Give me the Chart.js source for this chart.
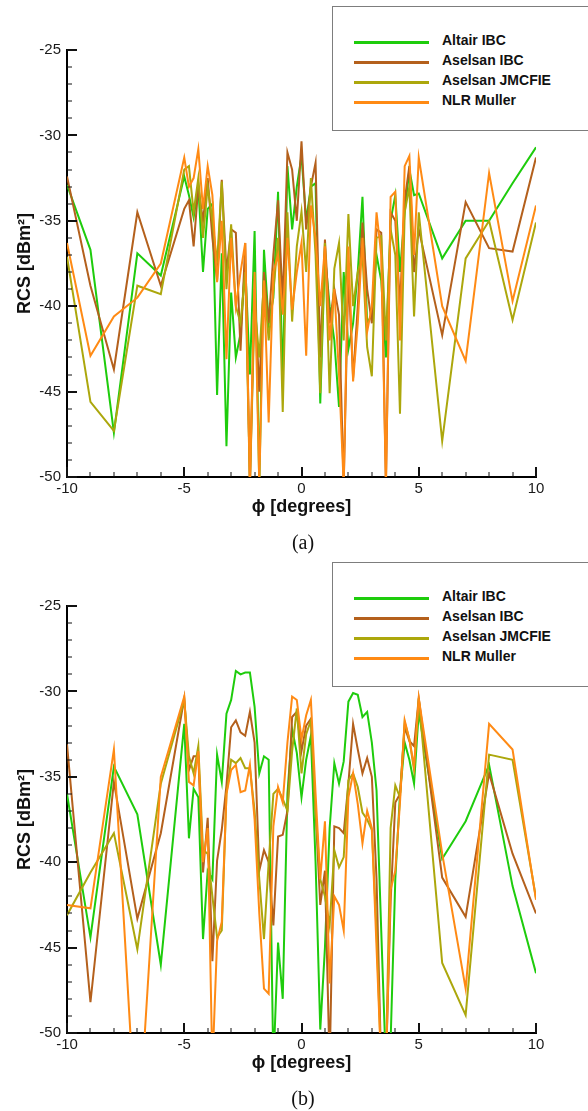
<!DOCTYPE html>
<html>
<head>
<meta charset="utf-8">
<script src="https://cdn.jsdelivr.net/npm/chart.js@4.4.1/dist/chart.umd.min.js"></script>
<style>
  html, body { margin: 0; padding: 0; background: #fff; }
  body { width: 588px; height: 1111px; position: relative; overflow: hidden; }
  .panel { position: absolute; left: 0; width: 588px; height: 555px; }
  .panel canvas { position: absolute; left: 0; top: 0; }
  .legend { position: absolute; left: 332px; top: 6px; width: 270px; height: 125px;
            border: 1.5px solid #7d7d7d; box-sizing: border-box; background: #fff; }
  .legend .swatch { position: absolute; left: 21px; width: 75px; height: 2.5px; }
  .legend .label { position: absolute; left: 109px; height: 20px; line-height: 20px;
                   font: bold 14px "Liberation Sans", Arial, sans-serif; color: #111; white-space: nowrap; }
  .caption { position: absolute; left: 273px; width: 60px; top: 531px; line-height: 24px; text-align: center;
             font: 20px "Liberation Serif", "Times New Roman", serif; color: #111; }
</style>
</head>
<body>
<div class="panel" style="top:0px">
  <canvas id="chartA" width="588" height="555"></canvas>
  <div class="legend" id="legendA"></div>
  <div class="caption">(a)</div>
</div>
<div class="panel" style="top:556px">
  <canvas id="chartB" width="588" height="555"></canvas>
  <div class="legend" id="legendB"></div>
  <div class="caption">(b)</div>
</div>
<script>
// phi angles (degrees) shared by every curve
const phi = [-10, -9, -8, -7, -6,
  -5, -4.8, -4.6, -4.4, -4.2, -4, -3.8, -3.6, -3.4, -3.2,
  -3, -2.8, -2.6, -2.4, -2.2, -2, -1.8, -1.6, -1.4, -1.2,
  -1, -0.8, -0.6, -0.4, -0.2,
  0, 0.2, 0.4, 0.6, 0.8, 1, 1.2, 1.4, 1.6, 1.8,
  2, 2.2, 2.4, 2.6, 2.8, 3, 3.2, 3.4, 3.6, 3.8,
  4, 4.2, 4.4, 4.6, 4.8, 5,
  6, 7, 8, 9, 10];

const seriesNames = ['Altair IBC', 'Aselsan IBC', 'Aselsan JMCFIE', 'NLR Muller'];
const seriesColors = ['#1ecc0c', '#b4601c', '#aca70c', '#ff8a14'];

const xTicks = [-10, -5, 0, 5, 10];
const yTicks = [-50, -45, -40, -35, -30, -25];

// panel (a)
const altairA = [-32.9, -36.7, -47.4, -36.9, -38.2,
  -32.4, -33.5, -34.8, -33.0, -38.0, -34.3, -34.0, -45.2, -36.9, -48.2,
  -39.2, -43.0, -41.6, -37.5, -44.0, -35.6, -50.5, -36.7, -41.0, -39.5,
  -33.3, -44.5, -31.8, -35.5, -33.0,
  -31.2, -35.0, -33.0, -32.8, -45.7, -37.0, -40.0, -42.0, -45.9, -38.0,
  -42.5, -41.0, -38.0, -33.6, -41.0, -40.5, -37.0, -38.5, -43.0, -35.0,
  -33.5, -38.0, -34.5, -32.0, -33.5, -33.4,
  -37.2, -35.0, -35.0, -32.8, -30.7];
const aselsanIbcA = [-32.4, -38.8, -43.7, -34.5, -38.8,
  -34.3, -33.8, -36.5, -33.0, -35.0, -32.5, -36.0, -38.5, -32.6, -38.0,
  -35.5, -35.7, -42.6, -36.3, -50.5, -39.0, -45.0, -38.0, -41.0, -37.0,
  -33.8, -39.8, -31.0, -32.0, -35.0,
  -30.35, -35.5, -33.0, -31.6, -43.0, -36.1, -41.0, -39.0, -40.5, -50.5,
  -38.0, -44.2, -40.0, -35.1, -39.0, -41.0, -35.5, -35.7, -50.5, -34.5,
  -35.0, -40.0, -33.8, -31.8, -38.0, -35.5,
  -41.7, -33.9, -36.6, -36.8, -31.3];
const aselsanJmcfieA = [-37.1, -45.6, -47.3, -38.8, -39.3,
  -32.0, -31.8, -34.5, -32.5, -36.0, -33.0, -35.0, -37.5, -32.7, -39.0,
  -35.2, -40.0, -41.0, -38.0, -50.5, -40.0, -43.0, -38.5, -42.0, -39.2,
  -36.0, -46.2, -34.5, -40.9, -36.5,
  -34.45, -38.0, -32.5, -37.0, -45.1, -36.3, -45.1, -37.8, -36.3, -42.0,
  -34.6, -40.0, -38.0, -37.0, -42.4, -44.1, -36.0, -35.9, -42.0, -35.5,
  -37.0, -46.3, -34.5, -33.0, -40.6, -34.5,
  -47.9, -37.2, -35.0, -40.8, -35.1];
const nlrMullerA = [-36.3, -42.9, -40.6, -39.5, -37.5,
  -31.3, -33.0, -32.5, -30.8, -34.3, -31.8, -33.5, -38.6, -35.0, -43.1,
  -36.0, -40.0, -38.0, -36.3, -50.5, -38.0, -50.5, -38.5, -46.8, -38.0,
  -37.0, -40.5, -36.0, -40.2, -38.0,
  -36.3, -42.9, -34.1, -36.0, -40.0, -36.5, -42.0, -39.0, -44.0, -50.5,
  -36.5, -44.4, -41.0, -36.0, -41.5, -40.0, -34.5, -37.0, -50.5, -33.6,
  -33.3, -42.0, -31.8, -31.2, -37.0, -31.3,
  -40.0, -43.2, -32.2, -39.7, -34.1];

// panel (b)
const altairB = [-36.0, -44.4, -34.4, -37.2, -46.0,
  -31.9, -38.6, -35.7, -36.2, -44.5, -40.5, -41.0, -33.7, -35.3, -31.3,
  -30.5, -28.8, -29.0, -28.9, -28.9, -30.9, -34.8, -33.8, -34.0, -52.0,
  -44.7, -48.0, -36.0, -32.2, -33.6,
  -36.2, -34.0, -32.6, -40.0, -49.8, -45.0, -38.0, -34.2, -35.4, -34.1,
  -30.6, -30.1, -30.2, -31.5, -31.2, -33.0, -35.8, -44.0, -52.0, -50.5,
  -41.0, -36.0, -33.0, -34.0, -35.4, -31.2,
  -39.8, -37.6, -34.3, -41.4, -46.5];
const aselsanIbcB = [-33.1, -48.2, -35.3, -43.3, -38.3,
  -30.4, -34.6, -33.8, -33.8, -40.6, -37.4, -45.8, -39.9, -38.1, -35.5,
  -32.1, -31.7, -32.4, -32.6, -31.2, -33.0, -40.5, -39.3, -40.0, -43.7,
  -38.5, -38.4, -37.0, -31.5, -31.2,
  -33.5, -32.0, -31.6, -37.0, -42.5, -40.5, -52.0, -37.9, -38.0, -38.3,
  -35.4, -31.9, -33.4, -34.8, -33.9, -35.0, -41.0, -52.0, -52.0, -42.3,
  -36.5, -36.0, -32.1, -32.9, -33.2, -30.4,
  -40.9, -43.2, -34.8, -39.5, -43.0];
const aselsanJmcfieB = [-43.1, -40.6, -38.3, -45.1, -35.4,
  -30.5, -33.8, -34.8, -33.2, -39.3, -39.5, -42.0, -44.4, -44.0, -36.0,
  -34.0, -34.2, -33.9, -34.5, -34.5, -37.0, -41.0, -44.5, -40.0, -36.0,
  -35.7, -36.3, -37.0, -33.5, -31.0,
  -34.8, -32.5, -31.7, -37.0, -41.0, -42.0, -43.7, -39.3, -40.3, -39.7,
  -35.2, -34.8, -35.6, -37.1, -37.5, -38.1, -44.0, -52.0, -52.0, -38.0,
  -35.5, -36.2, -31.8, -32.8, -34.6, -30.4,
  -45.9, -48.95, -33.7, -34.0, -42.1];
const nlrMullerB = [-42.5, -42.7, -33.4, -57.0, -35.0,
  -30.3, -35.3, -35.5, -33.5, -40.0, -38.0, -52.0, -44.6, -43.5, -36.0,
  -34.6, -34.3, -35.9, -35.8, -34.3, -37.5, -43.0, -47.4, -47.7, -37.9,
  -35.6, -36.5, -33.0, -30.3, -30.5,
  -32.8, -31.4, -30.5, -36.0, -41.0, -37.6, -47.1, -42.0, -42.5, -44.0,
  -36.2, -34.8, -36.6, -38.9, -37.0, -38.0, -45.0, -52.0, -52.0, -41.6,
  -40.5, -36.5, -31.7, -32.8, -34.4, -30.4,
  -39.5, -47.4, -31.9, -33.4, -42.2];

const FONT = '"Liberation Sans", Arial, sans-serif';

// inward major/minor tick marks like the original plotting package
const innerTicks = {
  id: 'innerTicks',
  afterDraw(chart) {
    const { ctx, chartArea: area, scales: { x, y } } = chart;
    ctx.save();
    ctx.strokeStyle = '#111';
    for (let v = x.min; v <= x.max; v += 1) {
      const major = xTicks.includes(v);
      const px = Math.round(x.getPixelForValue(v));
      ctx.lineWidth = major ? 2 : 1;
      ctx.beginPath();
      ctx.moveTo(px, area.bottom);
      ctx.lineTo(px, area.bottom - (major ? 10 : 5));
      ctx.stroke();
    }
    for (let v = y.min; v <= y.max; v += 1) {
      const major = yTicks.includes(v);
      const py = Math.round(y.getPixelForValue(v));
      ctx.lineWidth = major ? 2 : 1;
      ctx.beginPath();
      ctx.moveTo(area.left, py);
      ctx.lineTo(area.left + (major ? 10 : 5), py);
      ctx.stroke();
    }
    ctx.restore();
  }
};

function buildLegend(id) {
  const box = document.getElementById(id);
  seriesNames.forEach((name, i) => {
    const sw = document.createElement('div');
    sw.className = 'swatch';
    sw.style.top = (34 + i * 20) + 'px';
    sw.style.background = seriesColors[i];
    box.appendChild(sw);
    const lb = document.createElement('div');
    lb.className = 'label';
    lb.style.top = (25 + i * 20) + 'px';
    lb.textContent = name;
    box.appendChild(lb);
  });
}

function makeChart(canvasId, seriesList) {
  const ctx = document.getElementById(canvasId);
  return new Chart(ctx, {
    type: 'line',
    data: {
      datasets: seriesList.map((values, i) => ({
        label: seriesNames[i],
        data: phi.map((p, k) => ({ x: p, y: values[k] })),
        borderColor: seriesColors[i],
        borderWidth: 2,
        pointRadius: 0,
        tension: 0,
        fill: false,
        order: seriesList.length - 1 - i
      }))
    },
    options: {
      responsive: false,
      animation: false,
      events: [],
      layout: { padding: { top: 50, right: 52, left: 0, bottom: 0 } },
      plugins: { legend: { display: false }, tooltip: { enabled: false } },
      scales: {
        x: {
          type: 'linear', min: -10, max: 10,
          afterBuildTicks: s => { s.ticks = xTicks.map(v => ({ value: v })); },
          afterFit: s => { s.height = 78; },
          grid: { display: false, drawTicks: false },
          border: { display: true, color: '#000', width: 2 },
          ticks: { padding: 3, color: '#1a1a1a', font: { family: FONT, size: 15 } },
          title: { display: true, text: 'ϕ [degrees]', color: '#111',
                   font: { family: FONT, size: 18, weight: 'bold' }, padding: { top: 0, bottom: 37 } }
        },
        y: {
          type: 'linear', min: -50, max: -25,
          afterBuildTicks: s => { s.ticks = yTicks.map(v => ({ value: v })); },
          afterFit: s => { s.width = 67; },
          grid: { display: false, drawTicks: false },
          border: { display: true, color: '#000', width: 2 },
          ticks: { padding: 6, color: '#1a1a1a', font: { family: FONT, size: 15 } },
          title: { display: true, text: 'RCS [dBm²]', color: '#111',
                   font: { family: FONT, size: 18, weight: 'bold' }, padding: { top: 14, bottom: 0 } }
        }
      }
    },
    plugins: [innerTicks]
  });
}

buildLegend('legendA');
buildLegend('legendB');
makeChart('chartA', [altairA, aselsanIbcA, aselsanJmcfieA, nlrMullerA]);
makeChart('chartB', [altairB, aselsanIbcB, aselsanJmcfieB, nlrMullerB]);
</script>
</body>
</html>
